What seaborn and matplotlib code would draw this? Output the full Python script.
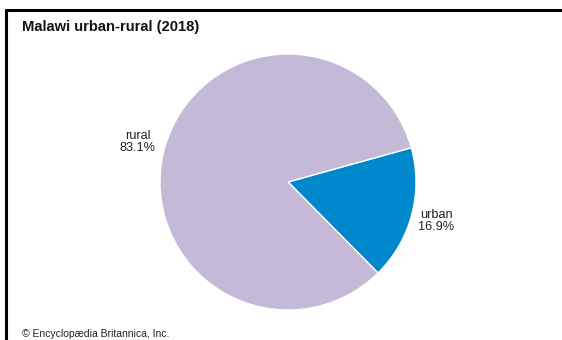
import matplotlib
matplotlib.use("Agg")
import matplotlib.pyplot as plt
import seaborn as sns

categories = ["urban", "rural"]
shares = [16.9, 83.1]
colors = ["#0088cc", "#c4bad8"]
title = "Malawi urban-rural (2018)"
credit = "© Encyclopædia Britannica, Inc."

sns.set_theme(style="white")
plt.rcParams["font.family"] = ["Liberation Sans", "DejaVu Sans"]

W, H = 562, 340
fig = plt.figure(figsize=(W / 100, H / 100), dpi=100)
fig.patch.set_facecolor("white")

# frame lines (top and left)
fig.add_artist(plt.Line2D([6 / W, 1], [1 - 10 / H, 1 - 10 / H], color="black", lw=2.2))
fig.add_artist(plt.Line2D([6 / W, 6 / W], [0, 1 - 10 / H], color="black", lw=2.2))

cx, cy, r = 288, 182, 128
ax = fig.add_axes([(cx - r) / W, (H - cy - r) / H, 2 * r / W, 2 * r / H])
ax.pie(shares, colors=colors, startangle=-45.3, counterclock=True,
       wedgeprops=dict(edgecolor="white", linewidth=1.0))
ax.set_xlim(-1, 1)
ax.set_ylim(-1, 1)
ax.set_aspect("equal")
ax.axis("off")

def px(x, y):
    return x / W, 1 - y / H

fig.text(*px(22, 27), title, fontsize=10.6, fontweight="bold", ha="left", va="center", color="#111111")
fig.text(*px(22, 334), credit, fontsize=7.5, ha="left", va="center", color="#222222")

label_pos = {"rural": (138, 142), "urban": (436, 221)}
for cat, val in zip(categories, shares):
    x, y = label_pos[cat]
    fig.text(*px(x, y), f"{cat}\n{val:.1f}%", fontsize=9.2, ha="center", va="center",
             color="#222222", linespacing=1.1)

fig.savefig("out.png", dpi=100, facecolor="white")
